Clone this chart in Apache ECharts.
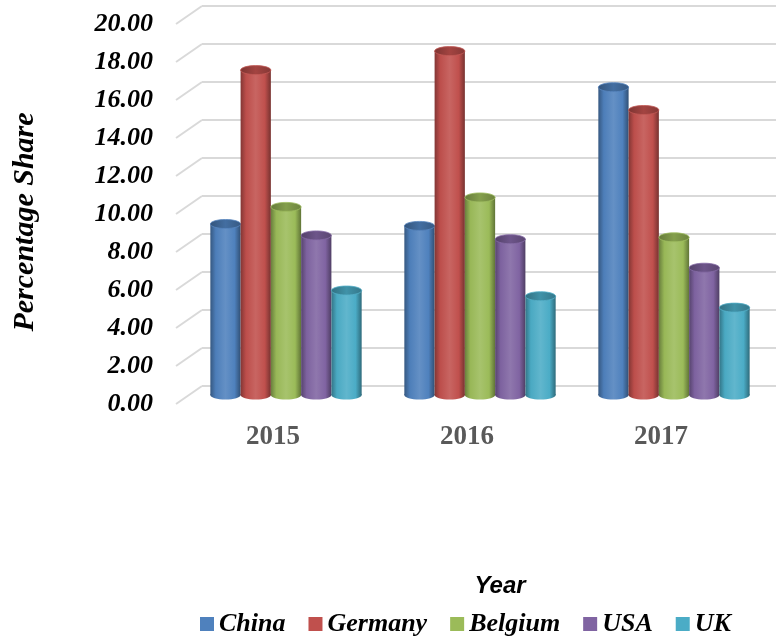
<!DOCTYPE html>
<html><head><meta charset="utf-8">
<script src="https://cdn.jsdelivr.net/npm/echarts@6/dist/echarts.min.js"></script>
<style>html,body{margin:0;padding:0;background:#fff}#c{width:776px;height:639px}</style>
</head><body><div id="c"></div>
<script>
var categories = ['2015', '2016', '2017'];
var china   = [9.0, 8.9, 16.2];
var germany = [17.1, 18.1, 15.0];
var belgium = [9.9, 10.4, 8.3];
var usa     = [8.4, 8.2, 6.7];
var uk      = [5.5, 5.2, 4.6];
var seriesNames = ['China', 'Germany', 'Belgium', 'USA', 'UK'];
var yTicks = [0, 2, 4, 6, 8, 10, 12, 14, 16, 18, 20];
var colors = ['#4F81BD', '#C0504D', '#9BBB59', '#8064A2', '#4BACC6'];

var allValues = [china, germany, belgium, usa, uk];
var SERIF = '"Liberation Serif", "Times New Roman", serif';

function shade(hex, f) {
  var n = parseInt(hex.slice(1), 16), r = n >> 16, g = (n >> 8) & 255, b = n & 255;
  function c(v) { return Math.round(f < 0 ? v * (1 + f) : v + (255 - v) * f); }
  return 'rgb(' + c(r) + ',' + c(g) + ',' + c(b) + ')';
}

function cylinder(si) {
  return function (params, api) {
    var cat = api.value(0), val = api.value(1);
    var top = api.coord([cat, val]), base = api.coord([cat, 0]);
    var band = api.size([1, 0])[0];
    var bw = band * 0.156;
    var cx = top[0] + (si - 2) * bw;
    var rx = bw / 2, ry = 4.5;
    var c = colors[si];
    var grad = new echarts.graphic.LinearGradient(0, 0, 1, 0, [
      {offset: 0, color: shade(c, -0.32)},
      {offset: 0.18, color: shade(c, -0.02)},
      {offset: 0.5, color: shade(c, 0.12)},
      {offset: 0.8, color: shade(c, 0)},
      {offset: 1, color: shade(c, -0.38)}
    ]);
    var capGrad = new echarts.graphic.LinearGradient(0, 0, 1, 0, [
      {offset: 0, color: shade(c, -0.35)},
      {offset: 0.5, color: shade(c, -0.15)},
      {offset: 1, color: shade(c, -0.3)}
    ]);
    return {
      type: 'group',
      children: [
        {type: 'ellipse', shape: {cx: cx, cy: base[1], rx: rx, ry: ry}, style: {fill: grad}},
        {type: 'rect', shape: {x: cx - rx, y: top[1], width: bw, height: base[1] - top[1]}, style: {fill: grad}},
        {type: 'ellipse', shape: {cx: cx, cy: top[1], rx: rx, ry: ry}, style: {fill: capGrad, stroke: shade(c, 0.05), lineWidth: 0.8}}
      ]
    };
  };
}

var series = [];
// slanted depth lines on the left wall
series.push({
  type: 'custom', name: 'wall', silent: true, xAxisIndex: 0, yAxisIndex: 0,
  data: yTicks.map(function (v) { return [0, v]; }),
  encode: {x: 0, y: 1},
  renderItem: function (params, api) {
    var p = api.coord([0, api.value(1)]);
    var left = p[0] - api.size([1, 0])[0] / 2;
    return {type: 'line', shape: {x1: left, y1: p[1], x2: left + 26, y2: p[1] - 18},
      style: {stroke: '#d9d9d9', lineWidth: 2}};
  }
});
seriesNames.forEach(function (name, si) {
  series.push({
    type: 'custom', name: name, xAxisIndex: 1, yAxisIndex: 1,
    itemStyle: {color: colors[si]},
    data: allValues[si].map(function (v, i) { return [i, v]; }),
    encode: {x: 0, y: 1},
    renderItem: cylinder(si)
  });
});

var chart = echarts.init(document.getElementById('c'));
chart.setOption({
  animation: false,
  backgroundColor: '#fff',
  grid: [
    {left: 176, top: 24, width: 582, height: 380},
    {left: 189, top: 15, width: 582, height: 380},
    {left: 202, top: 6, width: 582, height: 380}
  ],
  xAxis: [
    {type: 'category', gridIndex: 0, data: categories,
      axisLine: {show: false}, axisTick: {show: false},
      axisLabel: {fontFamily: SERIF, fontWeight: 'bold', fontSize: 27, color: '#595959', margin: 20}},
    {type: 'category', gridIndex: 1, data: categories, show: false},
    {type: 'category', gridIndex: 2, data: categories, show: false}
  ],
  yAxis: [
    {type: 'value', gridIndex: 0, min: 0, max: 20, interval: 2,
      axisLine: {show: false}, axisTick: {show: false}, splitLine: {show: false},
      axisLabel: {fontFamily: SERIF, fontWeight: 'bold', fontStyle: 'italic', fontSize: 26, color: '#000', margin: 23,
        padding: [6, 0, 0, 0],
        formatter: function (v) { return v.toFixed(2); }}},
    {type: 'value', gridIndex: 1, min: 0, max: 20, interval: 2, show: false},
    {type: 'value', gridIndex: 2, min: 0, max: 20, interval: 2,
      axisLine: {show: false}, axisTick: {show: false}, axisLabel: {show: false},
      splitLine: {show: true, lineStyle: {color: '#d9d9d9', width: 2}}}
  ],
  legend: {
    data: seriesNames, left: 195, top: 606, icon: 'rect', itemWidth: 14, itemHeight: 14, itemGap: 23,
    textStyle: {fontFamily: SERIF, fontWeight: 'bold', fontStyle: 'italic', fontSize: 26, color: '#000'}
  },
  graphic: [
    {type: 'text', x: 25, y: 222, rotation: Math.PI / 2,
      style: {text: 'Percentage Share', font: 'italic bold 30px "Liberation Serif", "Times New Roman", serif', fill: '#000',
        align: 'center', verticalAlign: 'middle'}},
    {type: 'text', x: 500, y: 586,
      style: {text: 'Year', font: 'italic bold 24px "Liberation Sans", Arial, sans-serif', fill: '#000',
        align: 'center', verticalAlign: 'middle'}}
  ],
  series: series
});
</script>
</body></html>
